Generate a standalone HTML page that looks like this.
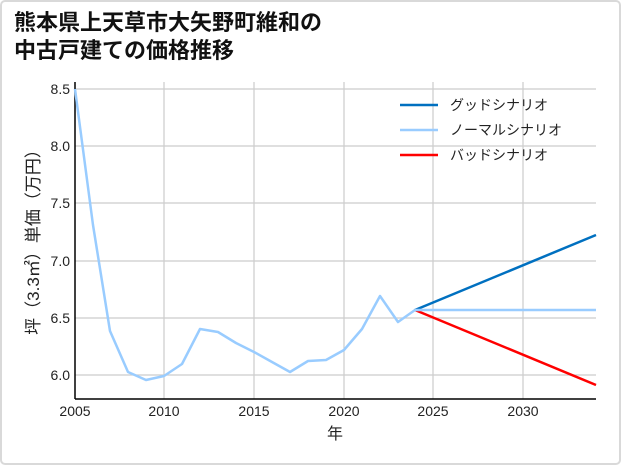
<!DOCTYPE html>
<html><head><meta charset="utf-8"><style>
body{margin:0;background:#fff;}
.wrap{position:relative;width:621px;height:465px;overflow:hidden;}
</style></head><body><div class="wrap">
<svg width="621" height="465" xmlns="http://www.w3.org/2000/svg" font-family="'Liberation Sans','Noto Sans CJK JP',sans-serif">
<rect x="1" y="1" width="619" height="463" rx="4" fill="#fff" stroke="#d9d9d9" stroke-width="2"/>
<text x="14" y="30" font-size="22" font-weight="bold" fill="#111">熊本県上天草市大矢野町維和の</text>
<text x="14" y="58" font-size="22" font-weight="bold" fill="#111">中古戸建ての価格推移</text>
<g stroke="#cccccc" stroke-width="1.2">
<line x1="164" y1="82" x2="164" y2="399"/><line x1="254" y1="82" x2="254" y2="399"/>
<line x1="344" y1="82" x2="344" y2="399"/><line x1="433" y1="82" x2="433" y2="399"/>
<line x1="523" y1="82" x2="523" y2="399"/>
<line x1="75" y1="89" x2="596" y2="89"/><line x1="75" y1="146" x2="596" y2="146"/>
<line x1="75" y1="203" x2="596" y2="203"/><line x1="75" y1="261" x2="596" y2="261"/>
<line x1="75" y1="318" x2="596" y2="318"/><line x1="75" y1="375" x2="596" y2="375"/>
</g>
<line x1="75" y1="82" x2="75" y2="399" stroke="#000" stroke-width="1.5"/>
<line x1="75" y1="399" x2="596" y2="399" stroke="#000" stroke-width="1.5"/>
<g font-size="14" fill="#222" text-anchor="end">
<text x="70" y="94">8.5</text><text x="70" y="151">8.0</text><text x="70" y="208">7.5</text>
<text x="70" y="266">7.0</text><text x="70" y="323">6.5</text><text x="70" y="380">6.0</text>
</g>
<g font-size="14" fill="#222" text-anchor="middle">
<text x="75" y="416">2005</text><text x="164" y="416">2010</text><text x="254" y="416">2015</text>
<text x="344" y="416">2020</text><text x="433" y="416">2025</text><text x="523" y="416">2030</text>
<text x="335" y="439" font-size="16">年</text>
</g>
<text transform="translate(39,238) rotate(-90)" font-size="17" fill="#222" text-anchor="middle">坪（3.3㎡）単価（万円）</text>
<polyline fill="none" stroke="#0070c0" stroke-width="2.5" points="415,310 596,235"/>
<polyline fill="none" stroke="#ff0000" stroke-width="2.5" points="415,310 596,385"/>
<polyline fill="none" stroke="#99ccff" stroke-width="2.5" points="415,310 596,310"/>
<polyline fill="none" stroke="#99ccff" stroke-width="2.5" stroke-linejoin="round" points="75,89 93,225 110,331 128,372 146,380 164,376 182,364 200,329 218,332 236,343 254,352 272,362 290,372 308,361 326,360 344,350 362,329 380,296 398,322 415,310"/>
<g font-size="14" fill="#222">
<line x1="400" y1="105" x2="438" y2="105" stroke="#0070c0" stroke-width="2.5"/><text x="450" y="110">グッドシナリオ</text>
<line x1="400" y1="130" x2="438" y2="130" stroke="#99ccff" stroke-width="2.5"/><text x="450" y="135">ノーマルシナリオ</text>
<line x1="400" y1="155" x2="438" y2="155" stroke="#ff0000" stroke-width="2.5"/><text x="450" y="160">バッドシナリオ</text>
</g>
</svg></div></body></html>
